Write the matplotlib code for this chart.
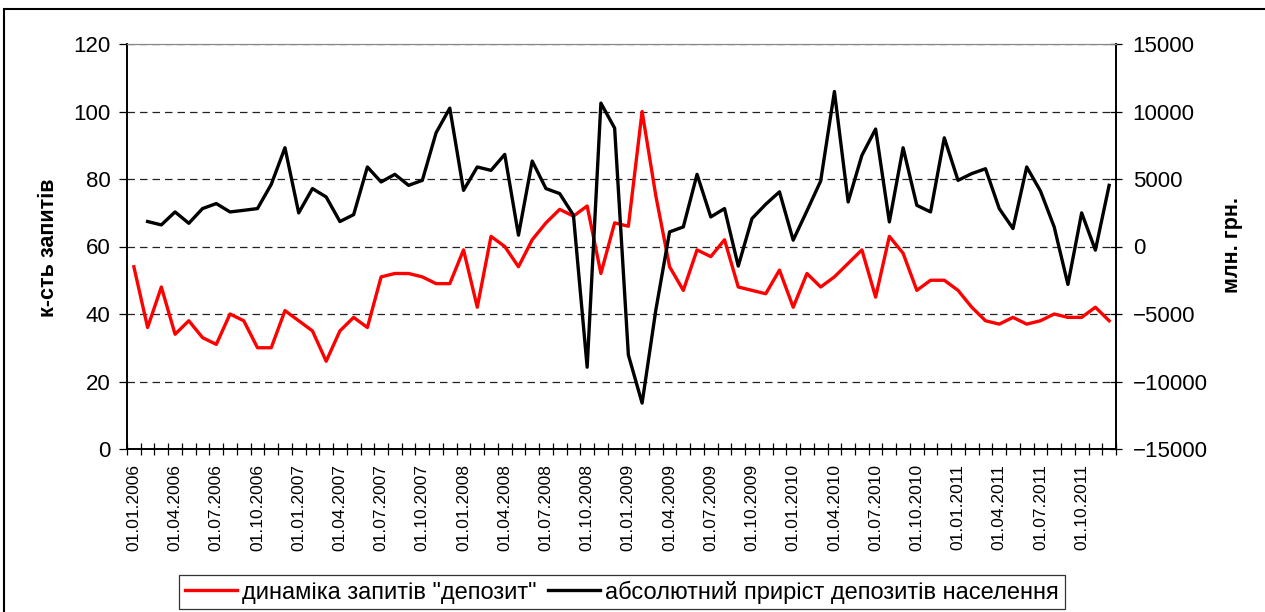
import numpy as np
import matplotlib
matplotlib.use("Agg")
import matplotlib.pyplot as plt
from matplotlib.patches import Rectangle

plt.rcParams["font.family"] = ["Liberation Sans", "DejaVu Sans"]

# monthly data, 01.2006 - 12.2011
requests_deposit = [54, 36, 48, 34, 38, 33, 31, 40, 38, 30, 30, 41,
                    38, 35, 26, 35, 39, 36, 51, 52, 52, 51, 49, 49,
                    59, 42, 63, 60, 54, 62, 67, 71, 69, 72, 52, 67,
                    66, 100, 75, 54, 47, 59, 57, 62, 48, 47, 46, 53,
                    42, 52, 48, 51, 55, 59, 45, 63, 58, 47, 50, 50,
                    47, 42, 38, 37, 39, 37, 38, 40, 39, 39, 42, 38]

deposit_growth = [np.nan, 1850, 1600, 2560, 1720, 2810, 3180, 2560, 2680, 2810, 4600, 7315,
                  2490, 4290, 3670, 1850, 2360, 5890, 4780, 5345, 4530, 4900, 8420, 10250,
                  4160, 5890, 5640, 6820, 840, 6330, 4290, 3920, 2320, -8940, 10620, 8770,
                  -8030, -11600, -4700, 1080, 1450, 5345, 2190, 2810, -1450, 2070, 3130, 4050,
                  470, 2640, 4850, 11480, 3300, 6750, 8700, 1820, 7315, 3050, 2560, 8050,
                  4900, 5400, 5760, 2810, 1330, 5890, 4110, 1450, -2810, 2490, -270, 4530]

date_labels = ["01.01.2006", "01.04.2006", "01.07.2006", "01.10.2006",
               "01.01.2007", "01.04.2007", "01.07.2007", "01.10.2007",
               "01.01.2008", "01.04.2008", "01.07.2008", "01.10.2008",
               "01.01.2009", "01.04.2009", "01.07.2009", "01.10.2009",
               "01.01.2010", "01.04.2010", "01.07.2010", "01.10.2010",
               "01.01.2011", "01.04.2011", "01.07.2011", "01.10.2011"]

W, H = 1265, 612
fig = plt.figure(figsize=(W / 100, H / 100), dpi=100)
fig.patches.append(Rectangle((4 / W, -0.01), 1.0, 1 - 9 / H + 0.01, transform=fig.transFigure,
                             fill=False, edgecolor="black", linewidth=1.5))

ax = fig.add_axes([127 / W, 1 - 449 / H, (1116 - 127) / W, (449 - 44) / H])
ax2 = ax.twinx()

x = np.arange(len(requests_deposit))
l1, = ax.plot(x, requests_deposit, color="#ff0000", linewidth=2.4, label='динаміка запитів "депозит"', zorder=3)
l2, = ax2.plot(x, deposit_growth, color="black", linewidth=2.4, label="абсолютний приріст депозитів населення")

ax.set_xlim(-0.5, len(x) - 0.5)
ax.set_ylim(0, 120)
ax.set_yticks(range(0, 121, 20))
ax2.set_ylim(-15000, 15000)
ax2.set_yticks(range(-15000, 15001, 5000))

ax.yaxis.grid(True, linestyle=(0, (6, 4)), color="#222222", linewidth=0.9)
ax.set_axisbelow(True)

ax.set_xticks(x[::3])
ax.set_xticklabels(date_labels, rotation=90, fontsize=12.5)
ax.set_xticks(np.arange(-0.5, len(x), 1), minor=True)
ax.tick_params(axis="x", which="major", length=0, pad=11)
ax.tick_params(axis="x", which="minor", direction="inout", length=8, width=0.9)
ax.tick_params(axis="y", direction="out", length=6, width=0.9, labelsize=16, pad=6)
ax2.tick_params(axis="y", direction="inout", length=8, width=0.9, labelsize=16, pad=8)

for a in (ax, ax2):
    a.spines["top"].set_color("#888888")
    a.spines["left"].set_linewidth(1.2)
    a.spines["right"].set_linewidth(1.2)
    a.spines["bottom"].set_linewidth(1.2)

ax.set_ylabel("к-сть запитів", fontsize=15.5, fontweight="bold")
ax.yaxis.set_label_coords(-0.069, 0.496)
ax2.set_ylabel("млн. грн.", fontsize=15.5, fontweight="bold")
ax2.yaxis.set_label_coords(1.107, 0.504)

leg = fig.legend(handles=[l1, l2], loc="center", bbox_to_anchor=(622 / W, 1 - 592 / H), ncol=2,
                 fontsize=17, frameon=True, fancybox=False, handlelength=2.2, handletextpad=0.2,
                 columnspacing=0.5, borderpad=0.25)
leg.get_frame().set_edgecolor("black")
leg.get_frame().set_linewidth(0.9)

fig.savefig("out.png", dpi=100)
